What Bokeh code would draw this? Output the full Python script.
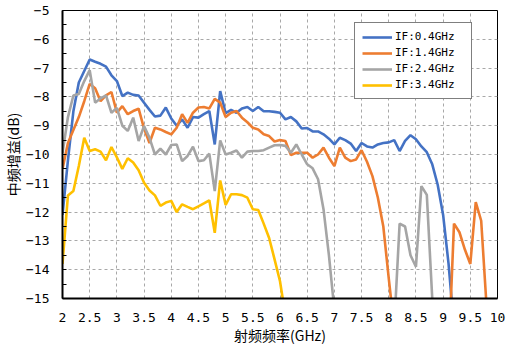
import numpy as np
from bokeh.plotting import figure
from bokeh.models import ColumnDataSource, FixedTicker, Range1d, Legend, LegendItem
from bokeh.embed import file_html
from bokeh.resources import INLINE

nan = float("nan")

freq = [2.0, 2.1, 2.2, 2.3, 2.4, 2.5, 2.6, 2.7, 2.8, 2.9,
        3.0, 3.1, 3.2, 3.3, 3.4, 3.5, 3.6, 3.7, 3.8, 3.9,
        4.0, 4.1, 4.2, 4.3, 4.4, 4.5, 4.6, 4.7, 4.8, 4.9,
        5.0, 5.1, 5.2, 5.3, 5.4, 5.5, 5.6, 5.7, 5.8, 5.9,
        6.0, 6.1, 6.2, 6.3, 6.4, 6.5, 6.6, 6.7, 6.8, 6.9,
        7.0, 7.1, 7.2, 7.3, 7.4, 7.5, 7.6, 7.7, 7.8, 7.9,
        8.0, 8.1, 8.2, 8.3, 8.4, 8.5, 8.6, 8.7, 8.8, 8.9,
        9.0, 9.1, 9.2, 9.3, 9.4, 9.5, 9.6, 9.7, 9.8, 9.9, 10.0]

if_04 = [-12.1, -10.2, -8.5, -7.5, -7.1, -6.7, -6.78, -6.85, -6.95, -7.25,
         -7.45, -7.97, -7.85, -7.93, -7.95, -8.2, -8.45, -8.68, -8.65, -8.37,
         -8.75, -9.0, -8.78, -9.07, -8.7, -8.72, -8.6, -8.49, -9.65, -7.8,
         -8.56, -8.45, -8.55, -8.4, -8.35, -8.49, -8.35, -8.5, -8.5, -8.52,
         -8.55, -8.78, -8.7, -8.85, -9.1, -9.08, -9.2, -9.2, -9.3, -9.45,
         -9.65, -9.42, -9.5, -9.62, -9.88, -9.6, -9.72, -9.76, -9.65, -9.6,
         -9.58, -9.5, -9.88, -9.53, -9.33, -9.47, -9.72, -9.92, -10.34, -11.05,
         -12.1, -13.8, -16.0, nan, nan, nan, nan, nan, nan, nan, nan]

if_14 = [-10.5, -9.6, -9.15, -8.7, -8.15, -7.55, -7.7, -8.15, -7.95, -7.83,
         -8.55, -8.32, -8.6, -8.49, -8.41, -9.1, -9.6, -9.07, -9.13, -9.22,
         -9.3, -9.07, -8.6, -8.9, -8.55, -8.37, -8.35, -8.4, -8.07, -8.2,
         -8.7, -8.55, -8.49, -8.72, -8.88, -9.07, -9.13, -9.3, -9.36, -9.55,
         -9.5, -9.53, -10.02, -9.94, -9.94, -9.94, -10.11, -10.0, -9.76, -10.11,
         -10.4, -9.76, -10.11, -10.23, -10.17, -9.85, -10.25, -10.75, -11.5, -12.5,
         -14.3, -16.0, nan, nan, nan, nan, nan, nan, nan, nan,
         nan, -17.0, -12.4, -12.7, -13.3, -13.8, -11.65, -12.3, -15.3, nan, nan]

if_24 = [-9.95, -8.7, -7.95, -7.9, -7.45, -7.07, -8.2, -8.05, -7.95, -8.55,
         -8.38, -9.0, -9.18, -8.72, -9.53, -9.01, -9.42, -10.0, -9.8, -10.0,
         -9.67, -9.65, -10.23, -10.05, -9.73, -10.23, -10.2, -9.97, -11.27, -9.51,
         -10.0, -9.94, -9.86, -10.11, -9.9, -9.88, -9.88, -9.85, -9.76, -9.68,
         -9.67, -9.7, -9.94, -9.65, -10.0, -10.34, -10.48, -10.86, -11.9, -13.5,
         -15.4, nan, nan, nan, nan, nan, nan, nan, nan, nan,
         nan, -16.0, -12.4, -12.5, -13.5, -13.9, -11.1, -11.4, -15.0, -17.0,
         nan, nan, nan, nan, nan, nan, nan, nan, nan, nan, nan]

if_34 = [-13.8, -11.42, -11.27, -10.4, -9.42, -9.88, -9.82, -9.9, -10.2, -9.74,
         -10.1, -10.5, -10.13, -10.28, -10.55, -10.98, -11.25, -11.42, -11.78, -11.67,
         -11.61, -12.0, -11.73, -11.82, -11.9, -11.8, -11.7, -11.59, -12.72, -10.9,
         -11.75, -11.38, -11.38, -11.41, -11.5, -11.9, -11.93, -12.4, -12.9, -13.64,
         -14.4, -15.6, nan, nan, nan, nan, nan, nan, nan, nan,
         nan, nan, nan, nan, nan, nan, nan, nan, nan, nan,
         nan, nan, nan, nan, nan, nan, nan, nan, nan, nan,
         nan, nan, nan, nan, nan, nan, nan, nan, nan, nan, nan]

series_names = ["IF:0.4GHz", "IF:1.4GHz", "IF:2.4GHz", "IF:3.4GHz"]
series_colors = ["#4472C4", "#ED7D31", "#A5A5A5", "#FFC000"]

x_ticks = [2, 2.5, 3, 3.5, 4, 4.5, 5, 5.5, 6, 6.5, 7, 7.5, 8, 8.5, 9, 9.5, 10]
x_tick_labels = ["2", "2.5", "3", "3.5", "4", "4.5", "5", "5.5", "6", "6.5",
                 "7", "7.5", "8", "8.5", "9", "9.5", "10"]
y_ticks = [-15, -14, -13, -12, -11, -10, -9, -8, -7, -6, -5]
y_tick_labels = ["−15", "−14", "−13", "−12", "−11", "−10", "−9", "−8", "−7", "−6", "−5"]
y_minor = [-14.5, -13.5, -12.5, -11.5, -10.5, -9.5, -8.5, -7.5, -6.5, -5.5]

src = ColumnDataSource(dict(
    f=np.array(freq, dtype=float),
    a=np.array(if_04, dtype=float),
    b=np.array(if_14, dtype=float),
    c=np.array(if_24, dtype=float),
    d=np.array(if_34, dtype=float),
))

p = figure(width=506, height=347, output_backend="svg", toolbar_location=None,
           x_range=Range1d(2, 10), y_range=Range1d(-15, -5),
           min_border_left=61, min_border_right=9, min_border_top=10, min_border_bottom=49)
p.background_fill_color = "white"
p.border_fill_color = "white"
p.outline_line_color = "black"
p.outline_line_width = 1

renderers = []
for col, color in zip(["a", "b", "c", "d"], series_colors):
    r = p.line("f", col, source=src, line_color=color, line_width=2.6)
    renderers.append(r)

mono = "DejaVu Sans Mono"
cjk = "Noto Sans CJK SC"

xa = p.xaxis[0]
xa.ticker = FixedTicker(ticks=x_ticks)
xa.major_label_overrides = {t: l for t, l in zip(x_ticks, x_tick_labels)}
xa.major_tick_in = 0
xa.major_tick_out = 0
xa.minor_tick_in = 0
xa.minor_tick_out = 0
xa.axis_line_color = "black"
xa.axis_line_width = 2
xa.major_label_text_font = mono
xa.major_label_text_font_size = "13px"
xa.major_label_text_color = "black"
xa.major_label_standoff = 14
xa.axis_label = "射频频率(GHz)"
xa.axis_label_text_font = cjk
xa.axis_label_text_font_size = "14px"
xa.axis_label_text_font_style = "normal"
xa.axis_label_text_color = "black"
xa.axis_label_standoff = 0

ya = p.yaxis[0]
ya.ticker = FixedTicker(ticks=y_ticks, minor_ticks=y_minor)
ya.major_label_overrides = {t: l for t, l in zip(y_ticks, y_tick_labels)}
ya.major_tick_in = 4
ya.major_tick_out = 0
ya.minor_tick_in = 4
ya.minor_tick_out = 0
ya.major_tick_line_color = "black"
ya.minor_tick_line_color = "black"
ya.axis_line_color = "black"
ya.axis_line_width = 2
ya.major_label_text_font = mono
ya.major_label_text_font_size = "13px"
ya.major_label_text_color = "black"
ya.major_label_standoff = 13
ya.axis_label = "中频增益(dB)"
ya.axis_label_text_font = cjk
ya.axis_label_text_font_size = "14px"
ya.axis_label_text_font_style = "normal"
ya.axis_label_text_color = "black"
ya.axis_label_standoff = 0

for g in (p.xgrid[0], p.ygrid[0]):
    g.grid_line_color = "#A8A8A8"
    g.grid_line_dash = "3 3"
    g.grid_line_width = 1

legend = Legend(items=[LegendItem(label=n, renderers=[r]) for n, r in zip(series_names, renderers)],
                location=(292, 199))
legend.border_line_color = "black"
legend.border_line_width = 1
legend.background_fill_color = "white"
legend.background_fill_alpha = 1
legend.label_text_font = mono
legend.label_text_font_size = "11px"
legend.label_text_color = "black"
legend.padding = 7
legend.spacing = 3
legend.label_height = 12
legend.glyph_height = 12
legend.glyph_width = 30
legend.label_standoff = 3
legend.label_width = 69
legend.margin = 0
p.add_layout(legend, "center")

open("out.html", "w").write(file_html(p, INLINE))
